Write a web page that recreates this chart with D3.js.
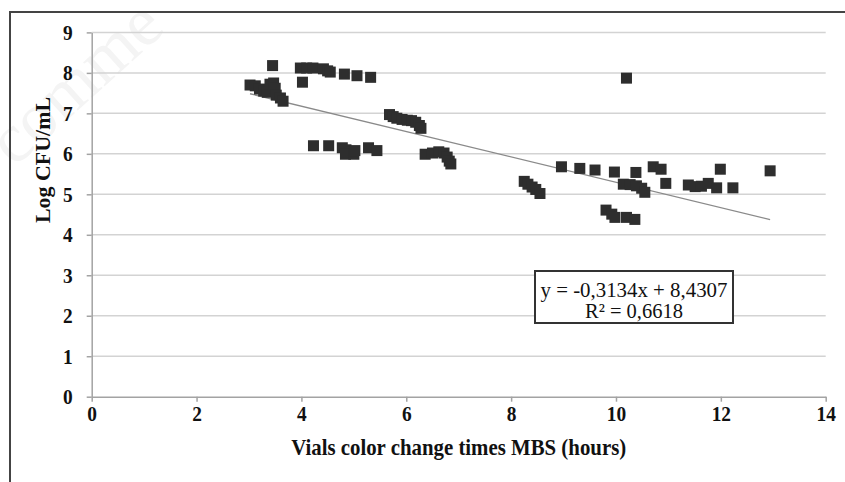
<!DOCTYPE html>
<html>
<head>
<meta charset="utf-8">
<script src="https://cdn.jsdelivr.net/npm/d3@7"></script>
<style>
  body { margin: 0; background: #fff; }
  svg { display: block; }
  text { font-family: "Liberation Serif", "Times New Roman", serif; }
</style>
</head>
<body>
<svg width="845" height="482"></svg>
<script>
const xTicks = [0, 2, 4, 6, 8, 10, 12, 14];
const yTicks = [0, 1, 2, 3, 4, 5, 6, 7, 8, 9];

// color change time (hours) and Log CFU/mL
const hours = [
  3.02, 3.12, 3.20, 3.28, 3.35, 3.40, 3.47, 3.50, 3.52, 3.60, 3.65, 3.45,
  3.98, 4.10, 4.22, 4.02, 4.42, 4.50, 4.55, 4.82, 5.06, 5.32,
  4.23, 4.52, 4.78, 4.85, 4.92, 4.84, 5.00, 5.02, 5.28, 5.44,
  5.68, 5.75, 5.82, 5.92, 6.02, 6.10, 6.18, 6.25, 6.28,
  6.36, 6.50, 6.62, 6.72, 6.78, 6.82, 6.85,
  8.25, 8.32, 8.40, 8.47, 8.55,
  8.96, 9.31, 9.60, 9.97, 10.38, 10.71, 10.86, 10.95, 11.99, 12.94,
  10.14, 10.27, 10.39, 10.49, 10.55, 11.38, 11.51, 11.63, 11.76, 11.92, 12.23,
  9.81, 9.92, 9.98, 10.20, 10.36,
  10.20
];
const logCfu = [
  7.70, 7.68, 7.60, 7.55, 7.52, 7.72, 7.75, 7.62, 7.45, 7.38, 7.30, 8.18,
  8.12, 8.12, 8.12, 7.77, 8.10, 8.05, 8.02, 7.97, 7.93, 7.89,
  6.20, 6.20, 6.15, 6.10, 6.05, 5.99, 5.99, 6.08, 6.15, 6.08,
  6.97, 6.92, 6.88, 6.85, 6.83, 6.82, 6.78, 6.70, 6.63,
  5.99, 6.02, 6.05, 6.02, 5.92, 5.82, 5.75,
  5.32, 5.25, 5.18, 5.12, 5.02,
  5.68, 5.64, 5.60, 5.55, 5.54, 5.68, 5.62, 5.27, 5.62, 5.58,
  5.25, 5.24, 5.21, 5.15, 5.05, 5.23, 5.19, 5.20, 5.27, 5.16, 5.16,
  4.61, 4.51, 4.43, 4.43, 4.38,
  7.87
];

const slope = -0.3134, intercept = 8.4307;
const eqLabel = "y = -0,3134x + 8,4307";
const r2Label = "R² = 0,6618";

const svg = d3.select("svg");

// faint watermark in the background
svg.append("text")
  .attr("transform", "translate(14,168) rotate(-42)")
  .attr("font-family", "Liberation Sans, sans-serif")
  .attr("font-size", 70)
  .attr("fill", "#f4f4f4")
  .text("comme");

// outer frame (cropped on the right and bottom)
svg.append("rect")
  .attr("x", 10).attr("y", 12)
  .attr("width", 850).attr("height", 500)
  .attr("fill", "none")
  .attr("stroke", "#444")
  .attr("stroke-width", 2);

const x = d3.scaleLinear().domain([0, 14]).range([91.7, 825.7]);
const y = d3.scaleLinear().domain([0, 9]).range([396.7, 32.4]);

// gridlines
svg.append("g")
  .selectAll("line")
  .data(yTicks.filter(d => d > 0))
  .enter().append("line")
  .attr("x1", x(0)).attr("x2", x(14))
  .attr("y1", d => y(d)).attr("y2", d => y(d))
  .attr("stroke", "#d3d3d3")
  .attr("stroke-width", 1.5);

// axes
const xAxis = svg.append("g")
  .attr("transform", `translate(0,${y(0)})`)
  .call(d3.axisBottom(x).tickValues(xTicks).tickSize(5).tickPadding(4).tickSizeOuter(0));

const yAxis = svg.append("g")
  .attr("transform", `translate(${x(0)},0)`)
  .call(d3.axisLeft(y).tickValues(yTicks).tickSize(5).tickPadding(14).tickSizeOuter(0));

const squeeze = 0.88; // the reference glyphs are narrow
[xAxis, yAxis].forEach(g => {
  g.select(".domain").attr("stroke", "#a3a3a3").attr("stroke-width", 1.5);
  g.selectAll(".tick line").attr("stroke", "#a3a3a3").attr("stroke-width", 1.5);
  g.selectAll(".tick text")
    .attr("fill", "#111")
    .attr("font-size", 22)
    .attr("font-weight", "bold")
    .attr("font-family", "Liberation Serif, serif")
    .attr("x", function() { return (+d3.select(this).attr("x") || 0) / squeeze; })
    .attr("transform", `scale(${squeeze},1)`);
});

// axis titles
svg.append("text")
  .attr("x", (x(0) + x(14)) / 2)
  .attr("y", 455)
  .attr("text-anchor", "middle")
  .attr("font-size", 23)
  .attr("font-weight", "bold")
  .attr("fill", "#111")
  .attr("textLength", 335)
  .attr("lengthAdjust", "spacingAndGlyphs")
  .text("Vials color change times MBS (hours)");

svg.append("text")
  .attr("transform", "translate(50,160) rotate(-90)")
  .attr("text-anchor", "middle")
  .attr("font-size", 22)
  .attr("font-weight", "bold")
  .attr("fill", "#111")
  .attr("textLength", 126)
  .attr("lengthAdjust", "spacingAndGlyphs")
  .text("Log CFU/mL");

// trend line over the range of the data
const xMin = d3.min(hours), xMax = d3.max(hours);
svg.append("line")
  .attr("x1", x(xMin)).attr("y1", y(slope * xMin + intercept))
  .attr("x2", x(xMax)).attr("y2", y(slope * xMax + intercept))
  .attr("stroke", "#8a8a8a")
  .attr("stroke-width", 1.3);

// points
const size = 11;
svg.append("g")
  .selectAll("rect")
  .data(hours.map((h, i) => ({ h: h, v: logCfu[i] })))
  .enter().append("rect")
  .attr("x", d => x(d.h) - size / 2)
  .attr("y", d => y(d.v) - size / 2)
  .attr("width", size)
  .attr("height", size)
  .attr("fill", "#2e2e2e");

// equation box
const box = svg.append("g");
box.append("rect")
  .attr("x", 535).attr("y", 271)
  .attr("width", 198).attr("height", 52)
  .attr("fill", "#fff")
  .attr("stroke", "#333")
  .attr("stroke-width", 2);
box.append("text")
  .attr("x", 634).attr("y", 297)
  .attr("text-anchor", "middle")
  .attr("font-size", 21)
  .attr("fill", "#111")
  .attr("textLength", 187)
  .attr("lengthAdjust", "spacingAndGlyphs")
  .text(eqLabel);
box.append("text")
  .attr("x", 634).attr("y", 318)
  .attr("text-anchor", "middle")
  .attr("font-size", 21)
  .attr("fill", "#111")
  .attr("textLength", 98)
  .attr("lengthAdjust", "spacingAndGlyphs")
  .text(r2Label);
</script>
</body>
</html>
